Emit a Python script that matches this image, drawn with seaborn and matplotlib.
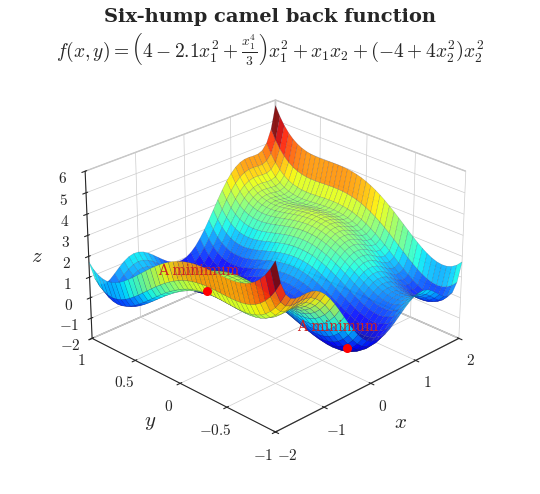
import numpy as np
import matplotlib
matplotlib.use("Agg")
import matplotlib.pyplot as plt
import seaborn as sns

sns.set_style("white")
plt.rcParams["mathtext.fontset"] = "cm"
plt.rcParams["font.family"] = ["DejaVu Serif"]

# grid of the surface
x_vals = np.linspace(-2, 2, 41)
y_vals = np.linspace(-1, 1, 41)
# the two marked minima
min_x = [0.0898, -0.0898]
min_y = [-0.7126, 0.7126]
min_z = [-1.0316, -1.0316]
min_label = ["A minimum", "A minimum"]


def camel(x, y):
    return (4 - 2.1 * x**2 + x**4 / 3) * x**2 + x * y + (-4 + 4 * y**2) * y**2


X, Y = np.meshgrid(x_vals, y_vals)
Z = camel(X, Y)

fig = plt.figure(figsize=(5.4, 4.94), dpi=100)
ax = fig.add_axes([-0.08, 0.06, 1.16, 0.82], projection="3d", computed_zorder=False)
ax.plot_surface(X, Y, Z, cmap="jet", rstride=1, cstride=1, shade=False,
                edgecolor=(0.1, 0.1, 0.3, 0.3), linewidth=0.3, antialiased=True,
                alpha=0.9, zorder=1)
ax.scatter(min_x, min_y, min_z, color="red", s=30, depthshade=False, zorder=5)
for mx, my, mz, lab in zip(min_x, min_y, min_z, min_label):
    ax.text(mx, my + 0.1, mz + 0.6, lab, color="#cc2222", fontsize=10, ha="center",
            zorder=6)

ax.view_init(elev=26, azim=-135)
ax.set_xlim(-2, 2)
ax.set_ylim(-1, 1)
ax.set_zlim(-2, 6)
ax.set_xticks([-2, -1, 0, 1, 2])
ax.set_yticks([-1, -0.5, 0, 0.5, 1])
ax.set_zticks(range(-2, 7))
ax.set_xticklabels(["$-2$", "$-1$", "$0$", "$1$", "$2$"])
ax.set_yticklabels(["$-1$", "$-0.5$", "$0$", "$0.5$", "$1$"])
ax.set_zticklabels(["$%d$" % v for v in range(-2, 7)])
ax.tick_params(labelsize=11, pad=1)
ax.set_xlabel("$x$", fontsize=15, labelpad=2)
ax.set_ylabel("$y$", fontsize=15, labelpad=2)
ax.set_zlabel("$z$", fontsize=15, labelpad=0)
for a in (ax.xaxis, ax.yaxis, ax.zaxis):
    a.pane.fill = False
    a.pane.set_edgecolor("gray")
    a._axinfo["grid"]["color"] = (0.8, 0.8, 0.8, 1)
    a._axinfo["grid"]["linewidth"] = 0.5
ax.set_box_aspect((1.35, 1.35, 0.95), zoom=1.0)

fig.text(0.5, 0.955, "Six-hump camel back function", ha="center",
         fontsize=14, fontweight="bold")
fig.text(0.5, 0.885,
         r"$f(x,y)=\left(4-2.1x_1^2+\frac{x_1^4}{3}\right)x_1^2+x_1x_2+\left(-4+4x_2^2\right)x_2^2$",
         ha="center", fontsize=14)
fig.savefig("out.png", dpi=100)
